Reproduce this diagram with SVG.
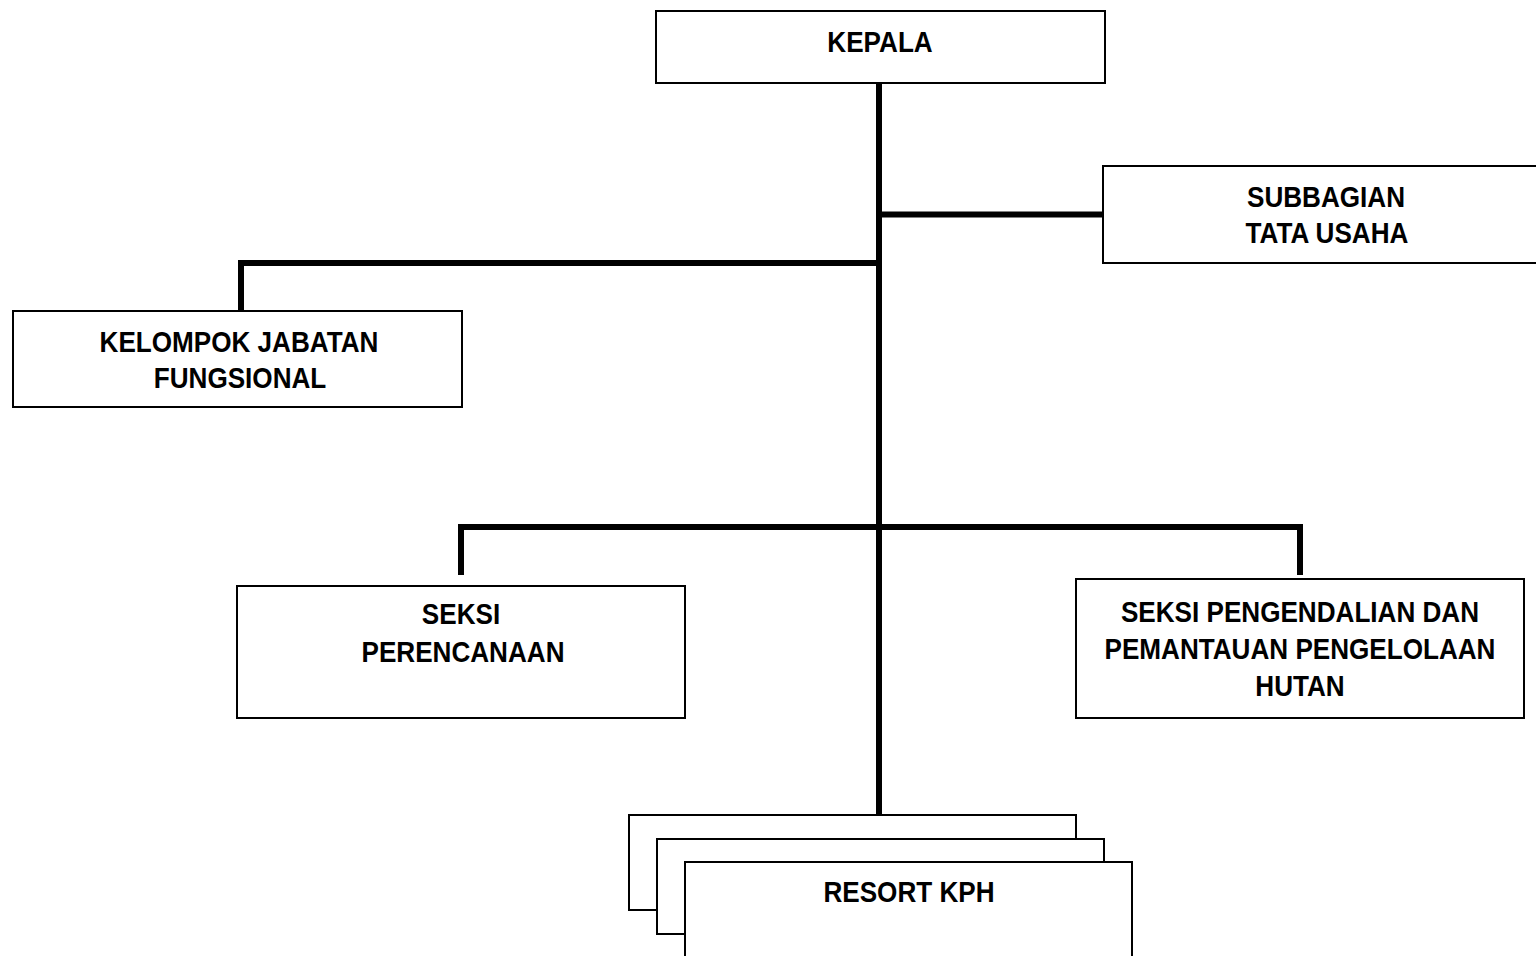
<svg xmlns="http://www.w3.org/2000/svg" width="1536" height="956" viewBox="0 0 1536 956">
<style>
.box{fill:#fff;stroke:#000;stroke-width:2}
.lbl{font-family:"Liberation Sans",Arial,sans-serif;font-weight:bold;font-size:30px;fill:#000;text-anchor:middle}
.con{stroke:#000;stroke-width:6;fill:none;stroke-linecap:butt}
</style>
<rect width="1536" height="956" fill="#fff"/>
<g id="connectors">
<line class="con" x1="879" y1="83" x2="879" y2="815"/>
<line class="con" x1="879" y1="214.5" x2="1103" y2="214.5"/>
<polyline class="con" points="879,263 241,263 241,311"/>
<polyline class="con" points="461,575 461,527 1300,527 1300,575"/>
</g>
<g id="kepala">
<rect class="box" x="656" y="11" width="449" height="72"/>
<text class="lbl" transform="matrix(0.87 0 0 1 880 0)" x="0" y="52">KEPALA</text>
</g>
<g id="subbagian">
<rect class="box" x="1103" y="166" width="440" height="97"/>
<text class="lbl" transform="matrix(0.87 0 0 1 1326 0)" x="0" y="207">SUBBAGIAN</text>
<text class="lbl" transform="matrix(0.87 0 0 1 1327 0)" x="0" y="243">TATA USAHA</text>
</g>
<g id="kelompok">
<rect class="box" x="13" y="311" width="449" height="96"/>
<text class="lbl" transform="matrix(0.87 0 0 1 239 0)" x="0" y="352">KELOMPOK JABATAN</text>
<text class="lbl" transform="matrix(0.87 0 0 1 240 0)" x="0" y="388">FUNGSIONAL</text>
</g>
<g id="perencanaan">
<rect class="box" x="237" y="586" width="448" height="132"/>
<text class="lbl" transform="matrix(0.87 0 0 1 461 0)" x="0" y="624">SEKSI</text>
<text class="lbl" transform="matrix(0.87 0 0 1 463 0)" x="0" y="662">PERENCANAAN</text>
</g>
<g id="pengendalian">
<rect class="box" x="1076" y="579" width="448" height="139"/>
<text class="lbl" transform="matrix(0.87 0 0 1 1300 0)" x="0" y="622">SEKSI PENGENDALIAN DAN</text>
<text class="lbl" transform="matrix(0.87 0 0 1 1300 0)" x="0" y="659">PEMANTAUAN PENGELOLAAN</text>
<text class="lbl" transform="matrix(0.87 0 0 1 1300 0)" x="0" y="696">HUTAN</text>
</g>
<g id="resort">
<rect class="box" x="629" y="815" width="447" height="95"/>
<rect class="box" x="657" y="839" width="447" height="95"/>
<rect class="box" x="685" y="862" width="447" height="120"/>
<text class="lbl" transform="matrix(0.87 0 0 1 909 0)" x="0" y="902">RESORT KPH</text>
</g>
</svg>
